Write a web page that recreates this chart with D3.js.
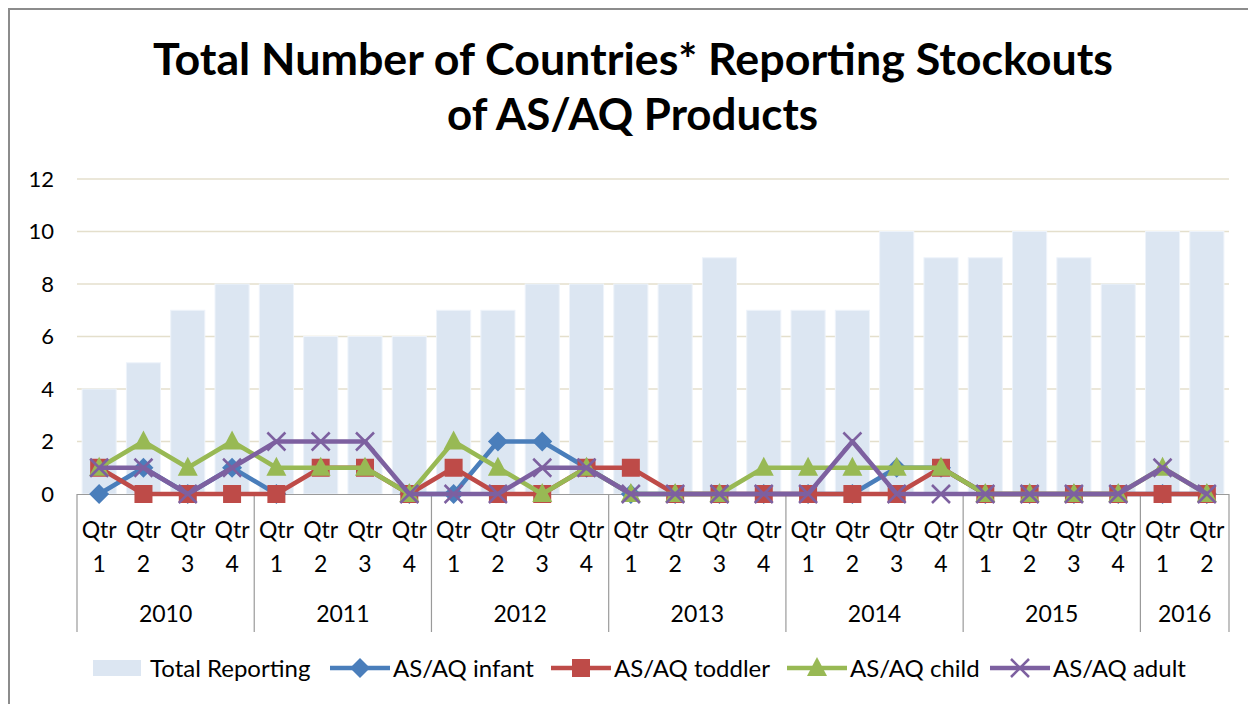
<!DOCTYPE html>
<html>
<head>
<meta charset="utf-8">
<script src="https://cdn.jsdelivr.net/npm/d3@7"></script>
<style>
  body { margin: 0; background: #fff; }
  svg { display: block; font-family: Lato, "Open Sans", sans-serif; }
</style>
</head>
<body>
<div class="chart"></div>
<script>
// chart data
const years = ["2010", "2011", "2012", "2013", "2014", "2015", "2016"];
const quarters = ["1", "2", "3", "4", "1", "2", "3", "4", "1", "2", "3", "4", "1", "2", "3", "4",
                  "1", "2", "3", "4", "1", "2", "3", "4", "1", "2"];
const quarterYear = [0,0,0,0, 1,1,1,1, 2,2,2,2, 3,3,3,3, 4,4,4,4, 5,5,5,5, 6,6];
const yTicks = [0, 2, 4, 6, 8, 10, 12];

const totalReporting = [4, 5, 7, 8,  8, 6, 6, 6,  7, 7, 8, 8,  8, 8, 9, 7,  7, 7, 10, 9,  9, 10, 9, 8,  10, 10];
const infant  = [0, 1, 0, 1,  0, null, null, 0,  0, 2, 2, 1,  0, 0, 0, 0,  0, 0, 1, 1,  0, 0, 0, 0,  0, 0];
const toddler = [1, 0, 0, 0,  0, 1, 1, 0,  1, 0, 0, 1,  1, 0, 0, 0,  0, 0, 0, 1,  0, 0, 0, 0,  0, 0];
const child   = [1, 2, 1, 2,  1, 1, 1, 0,  2, 1, 0, 1,  0, 0, 0, 1,  1, 1, 1, 1,  0, 0, 0, 0,  1, 0];
const adult   = [1, 1, 0, 1,  2, 2, 2, 0,  0, 0, 1, 1,  0, 0, 0, 0,  0, 2, 0, 0,  0, 0, 0, 0,  1, 0];

const series = [
  { name: "AS/AQ infant",  values: infant,  color: "#4a7ebb", marker: "diamond" },
  { name: "AS/AQ toddler", values: toddler, color: "#be4b48", marker: "square" },
  { name: "AS/AQ child",   values: child,   color: "#98b954", marker: "triangle" },
  { name: "AS/AQ adult",   values: adult,   color: "#7d60a0", marker: "cross" }
];

const barColor = "#dce6f2";
const width = 1248, height = 704;
const plotLeft = 77, plotRight = 1229, plotTop = 179, plotBottom = 494;

const svg = d3.select("div.chart").append("svg")
  .attr("width", width)
  .attr("height", height);

// outer frame
svg.append("rect")
  .attr("x", 9).attr("y", 9)
  .attr("width", 1260).attr("height", 720)
  .attr("fill", "none")
  .attr("stroke", "#8c8c8c")
  .attr("stroke-width", 2);

// title
const titleLines = [
  { text: "Total Number of Countries* Reporting Stockouts", x: 153, y: 75, len: 960 },
  { text: "of AS/AQ Products", x: 447, y: 130, len: 371 }
];
svg.selectAll("text.title").data(titleLines).enter().append("text")
  .attr("class", "title")
  .attr("x", d => d.x)
  .attr("y", d => d.y)
  .attr("textLength", d => d.len)
  .attr("lengthAdjust", "spacingAndGlyphs")
  .attr("font-size", 44)
  .attr("font-weight", "bold")
  .attr("fill", "#000")
  .text(d => d.text);

const x = d3.scaleBand()
  .domain(d3.range(quarters.length))
  .range([plotLeft, plotRight])
  .paddingInner(0.23)
  .paddingOuter(0.115);
const step = (plotRight - plotLeft) / quarters.length;
const cx = i => plotLeft + step * (i + 0.5);

const y = d3.scaleLinear().domain([0, 12]).range([plotBottom, plotTop]);

// gridlines
svg.append("g").selectAll("line").data(yTicks.slice(1)).enter().append("line")
  .attr("x1", plotLeft).attr("x2", plotRight)
  .attr("y1", d => y(d)).attr("y2", d => y(d))
  .attr("stroke", "#e4dfcc")
  .attr("stroke-width", 1.5);

// y labels
svg.append("g").selectAll("text").data(yTicks).enter().append("text")
  .attr("x", 54)
  .attr("y", d => y(d))
  .attr("dy", "0.36em")
  .attr("text-anchor", "end")
  .attr("font-size", 22)
  .attr("fill", "#000")
  .text(d => d);

// bars
svg.append("g").selectAll("rect").data(totalReporting).enter().append("rect")
  .attr("x", (d, i) => x(i))
  .attr("y", d => y(d))
  .attr("width", x.bandwidth())
  .attr("height", d => y(0) - y(d))
  .attr("fill", barColor)
  .attr("stroke", "#eef3fa")
  .attr("stroke-width", 1);

// category axis
const axisG = svg.append("g");
axisG.append("line")
  .attr("x1", plotLeft).attr("x2", plotRight)
  .attr("y1", plotBottom + 0.5).attr("y2", plotBottom + 0.5)
  .attr("stroke", "#9a9a9a").attr("stroke-width", 1.2);

const yearBounds = years.map((yr, k) => {
  const idx = quarterYear.map((v, i) => v === k ? i : -1).filter(i => i >= 0);
  return { year: yr, start: idx[0], end: idx[idx.length - 1] + 1 };
});
const seps = [0].concat(yearBounds.map(b => b.end));
axisG.selectAll("line.sep").data(seps).enter().append("line")
  .attr("class", "sep")
  .attr("x1", d => plotLeft + step * d).attr("x2", d => plotLeft + step * d)
  .attr("y1", plotBottom).attr("y2", 632)
  .attr("stroke", "#9a9a9a").attr("stroke-width", 1.2);

axisG.selectAll("text.qtr").data(quarters).enter().append("text")
  .attr("class", "qtr")
  .attr("x", (d, i) => cx(i))
  .attr("y", 538)
  .attr("text-anchor", "middle")
  .attr("font-size", 23)
  .text("Qtr");
axisG.selectAll("text.qnum").data(quarters).enter().append("text")
  .attr("class", "qnum")
  .attr("x", (d, i) => cx(i))
  .attr("y", 572)
  .attr("text-anchor", "middle")
  .attr("font-size", 23)
  .text(d => d);
axisG.selectAll("text.year").data(yearBounds).enter().append("text")
  .attr("class", "year")
  .attr("x", d => plotLeft + step * (d.start + d.end) / 2)
  .attr("y", 622)
  .attr("text-anchor", "middle")
  .attr("font-size", 23)
  .text(d => d.year);

// markers
function drawMarker(g, type, color, px, py) {
  if (type === "diamond") {
    g.append("path")
      .attr("d", `M${px},${py - 10}L${px + 10},${py}L${px},${py + 10}L${px - 10},${py}Z`)
      .attr("fill", color);
  } else if (type === "square") {
    g.append("rect")
      .attr("x", px - 9).attr("y", py - 9)
      .attr("width", 18).attr("height", 18)
      .attr("fill", color);
  } else if (type === "triangle") {
    g.append("path")
      .attr("d", `M${px},${py - 11}L${px + 10},${py + 8}L${px - 10},${py + 8}Z`)
      .attr("fill", color);
  } else {
    g.append("path")
      .attr("d", `M${px - 9},${py - 9}L${px + 9},${py + 9}M${px + 9},${py - 9}L${px - 9},${py + 9}`)
      .attr("stroke", color)
      .attr("stroke-width", 2.5);
  }
}

const line = d3.line()
  .defined(d => d[1] != null)
  .x(d => cx(d[0]))
  .y(d => y(d[1]));

series.forEach(s => {
  const g = svg.append("g");
  g.append("path")
    .attr("d", line(s.values.map((v, i) => [i, v])))
    .attr("fill", "none")
    .attr("stroke", s.color)
    .attr("stroke-width", 4.5)
    .attr("stroke-linejoin", "round");
  s.values.forEach((v, i) => {
    if (v == null) return;
    drawMarker(g, s.marker, s.color, cx(i), y(v));
  });
});

// legend
const legendY = 668;
const legend = svg.append("g");
legend.append("rect")
  .attr("x", 93).attr("y", legendY - 8)
  .attr("width", 48).attr("height", 16)
  .attr("fill", barColor);
legend.append("text")
  .attr("x", 150).attr("y", legendY).attr("dy", "0.36em")
  .attr("font-size", 24)
  .text("Total Reporting");

const legendPos = [330, 551, 787, 990];
series.forEach((s, k) => {
  const lx = legendPos[k];
  const g = legend.append("g");
  g.append("line")
    .attr("x1", lx).attr("x2", lx + 60)
    .attr("y1", legendY).attr("y2", legendY)
    .attr("stroke", s.color).attr("stroke-width", 4.5);
  drawMarker(g, s.marker, s.color, lx + 30, legendY);
  g.append("text")
    .attr("x", lx + 63).attr("y", legendY).attr("dy", "0.36em")
    .attr("font-size", 24)
    .text(s.name);
});
</script>
</body>
</html>
